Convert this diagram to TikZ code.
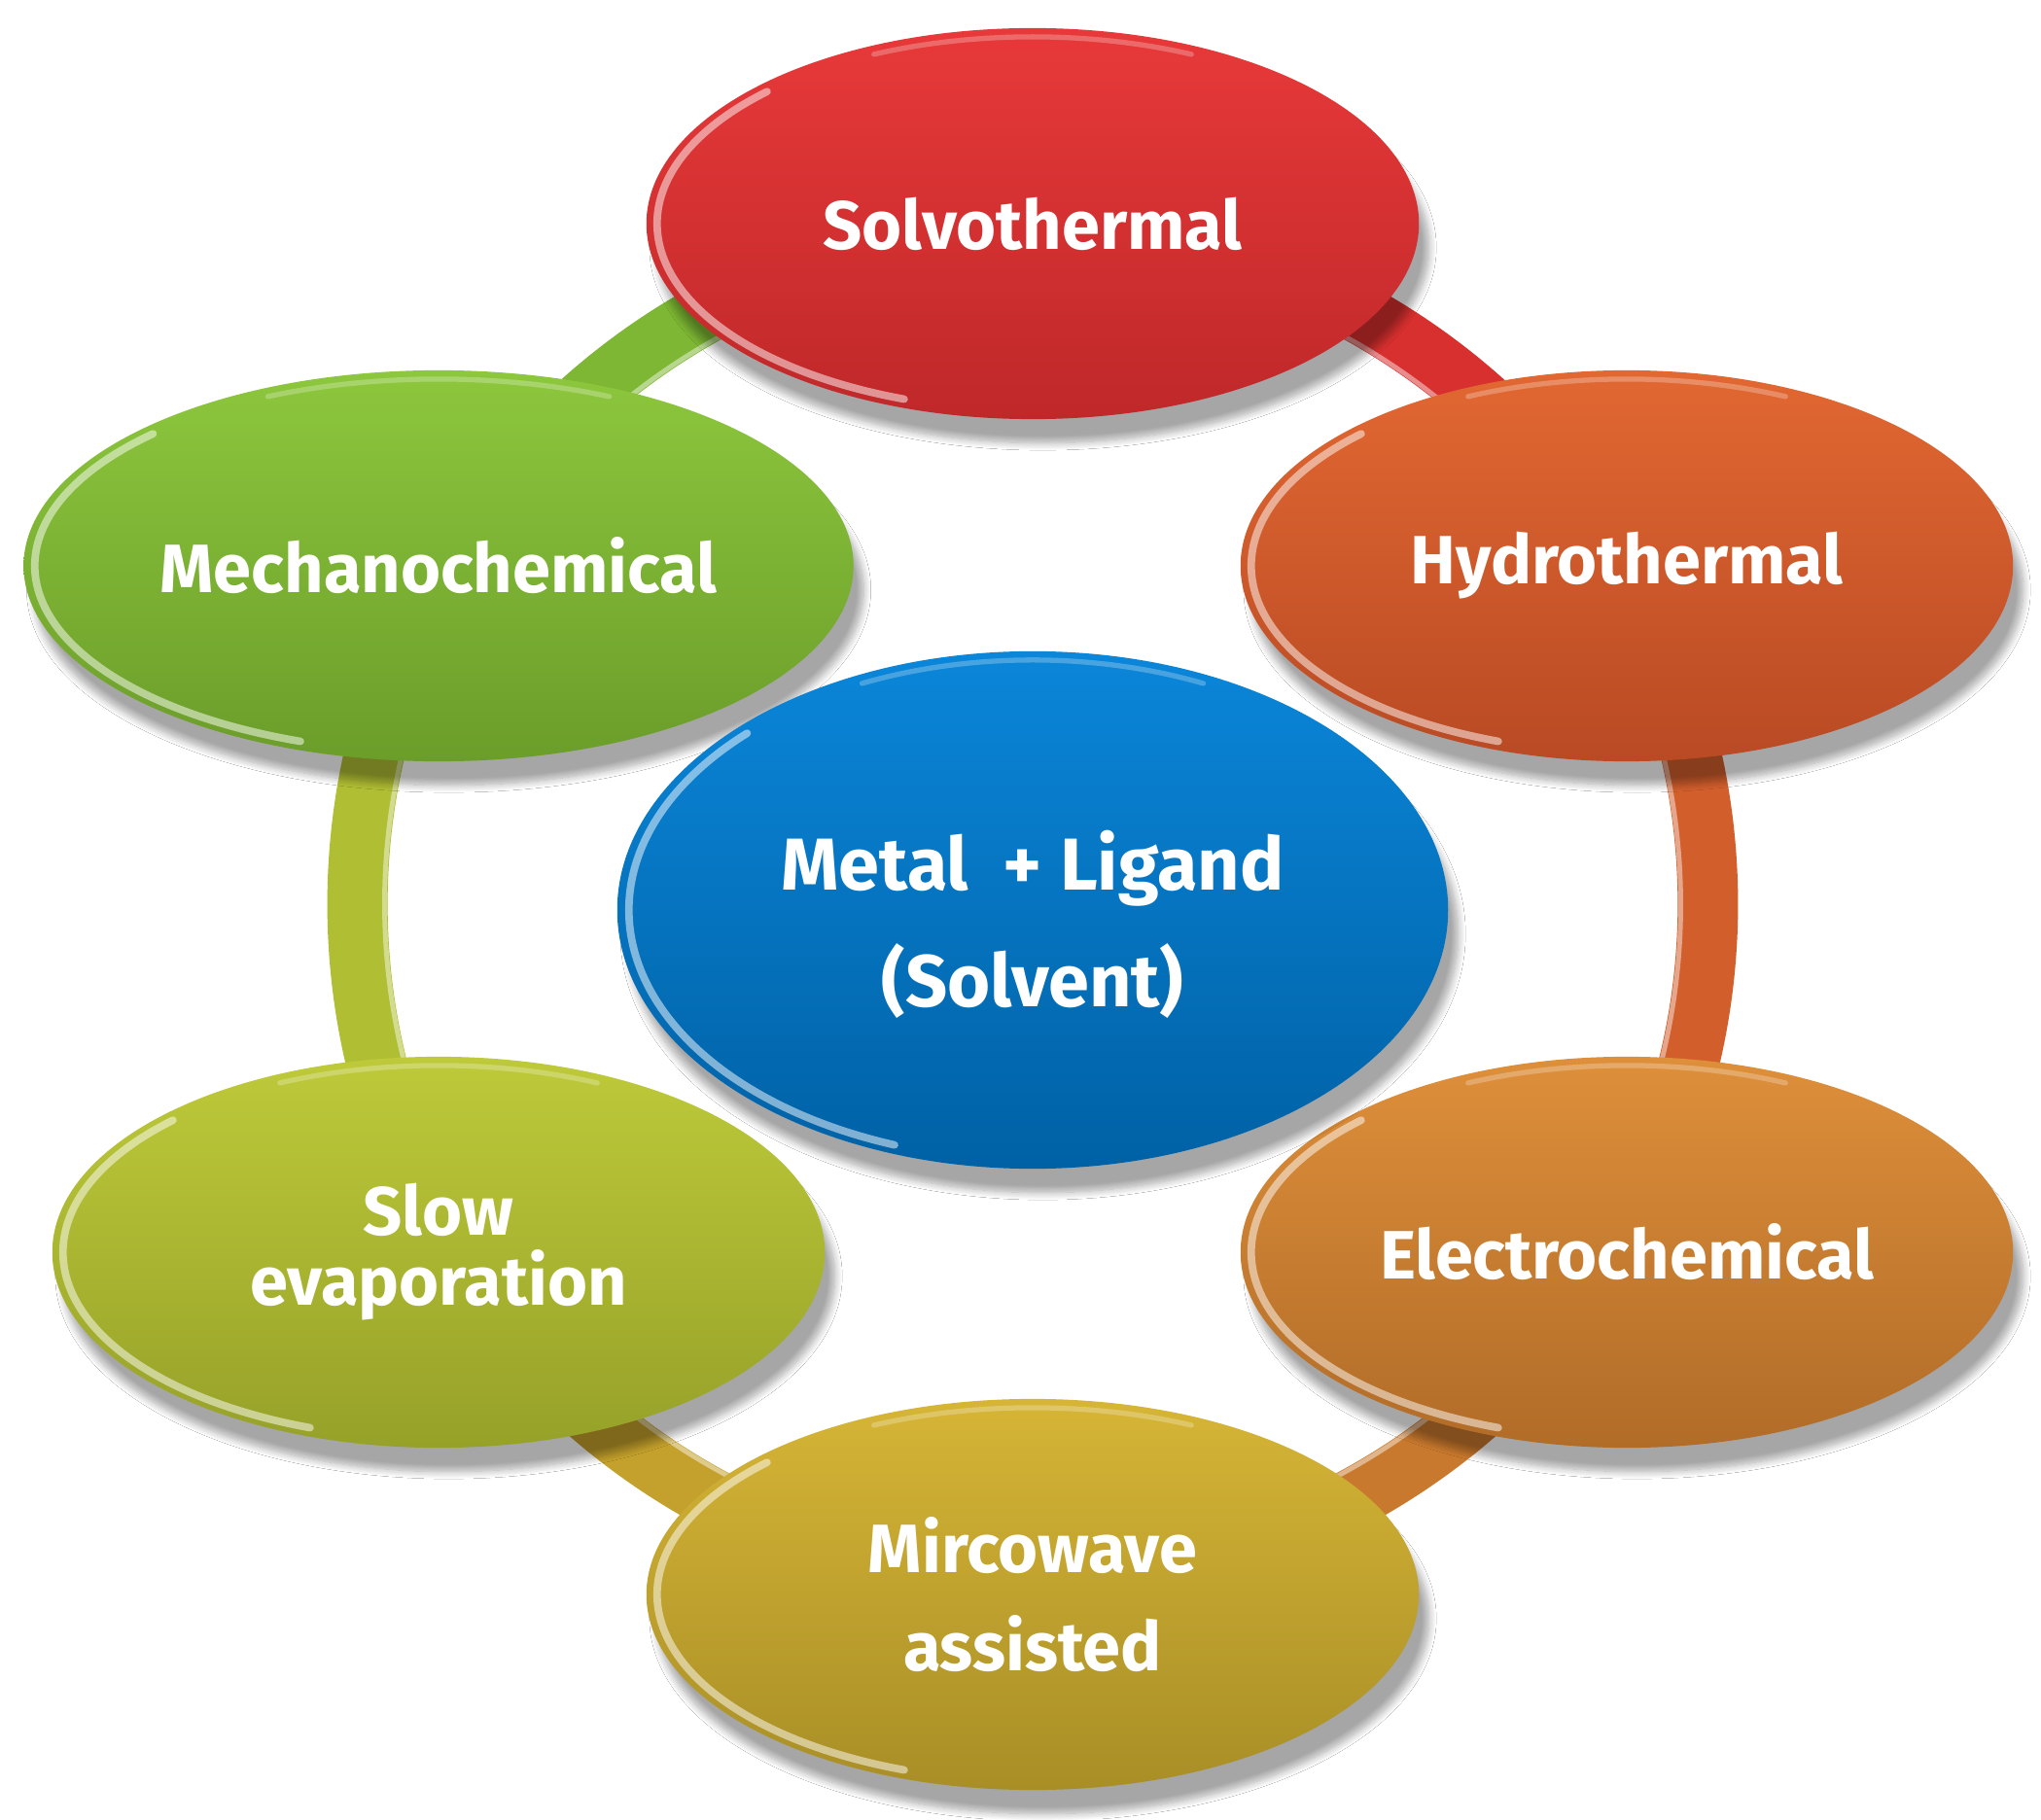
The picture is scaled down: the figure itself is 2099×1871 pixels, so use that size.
\documentclass[tikz,border=0pt]{standalone}
\usepackage{fontspec}
\setmainfont{Fira Sans}
\usetikzlibrary{shapes.geometric,shadows.blur}
\definecolor{solT}{HTML}{E8393A}\definecolor{solB}{HTML}{BF2829}
\definecolor{hydT}{HTML}{E26832}\definecolor{hydB}{HTML}{B94A24}
\definecolor{eleT}{HTML}{DE8F3A}\definecolor{eleB}{HTML}{B16C28}
\definecolor{micT}{HTML}{D6B536}\definecolor{micB}{HTML}{A88E26}
\definecolor{sloT}{HTML}{BECA39}\definecolor{sloB}{HTML}{96A129}
\definecolor{mecT}{HTML}{8DC73D}\definecolor{mecB}{HTML}{6B9D2A}
\definecolor{cenT}{HTML}{0B86D9}\definecolor{cenB}{HTML}{0061A5}
\definecolor{rMec}{HTML}{7DB733}\definecolor{rSol}{HTML}{D8302F}
\definecolor{rHyd}{HTML}{D25E2C}\definecolor{rEle}{HTML}{C9792D}
\definecolor{rMic}{HTML}{C4A12C}\definecolor{rSlo}{HTML}{B0BE33}
\tikzset{
  bubble/.style={ellipse, minimum width=7.94cm, minimum height=4.02cm, inner sep=0pt,
    text=white, align=center, font=\bfseries\fontsize{20}{28}\selectfont,
    blur shadow={shadow xshift=3pt, shadow yshift=-7pt, shadow blur steps=10, shadow opacity=35}},
  ringseg/.style={line width=0.62cm},
  ringshine/.style={line width=1.4pt, white, opacity=0.45},
  rim/.style={line width=2.2pt, white, opacity=0.5, line cap=round},
}
\newcommand{\glossrim}[3]{%
  \draw[rim] (#1.center) ++(135:#2 and #3) arc[start angle=135, end angle=250, x radius=#2, y radius=#3];
  \draw[rim, opacity=0.25, line width=1.5pt] (#1.center) ++(65:#2 and #3) arc[start angle=65, end angle=115, x radius=#2, y radius=#3];
}
\begin{document}
\begin{tikzpicture}[x=0.01cm,y=0.01cm]
\useasboundingbox (0,0) rectangle (2099,1871);
\fill[white] (0,0) rectangle (2099,1871);

% ring
\coordinate (rc) at (1062,941);
\path (rc) ++(90:6.94cm) coordinate (p90);
\path (rc) ++(30:6.94cm) coordinate (p30);
\path (rc) ++(-30:6.94cm) coordinate (pm30);
\path (rc) ++(-90:6.94cm) coordinate (pm90);
\path (rc) ++(-150:6.94cm) coordinate (pm150);
\path (rc) ++(150:6.94cm) coordinate (p150);
\draw[ringseg, rSol] (p90) arc[start angle=90, end angle=30, radius=6.94cm];
\draw[ringseg, rHyd] (p30) arc[start angle=30, end angle=-30, radius=6.94cm];
\draw[ringseg, rEle] (pm30) arc[start angle=-30, end angle=-90, radius=6.94cm];
\draw[ringseg, rMic] (pm90) arc[start angle=-90, end angle=-150, radius=6.94cm];
\draw[ringseg, rSlo] (pm150) arc[start angle=-150, end angle=-210, radius=6.94cm];
\draw[ringseg, rMec] (p150) arc[start angle=150, end angle=90, radius=6.94cm];
\draw[ringshine] (rc) ++(150:6.66cm) arc[start angle=150, end angle=-210, radius=6.66cm];

% nodes
\node[bubble, top color=solT, bottom color=solB] (solvo) at (1062,1641) {Solvothermal};
\node[bubble, top color=hydT, bottom color=hydB] (hydro) at (1673,1289) {Hydrothermal};
\node[bubble, top color=eleT, bottom color=eleB] (electro) at (1673,583) {Electrochemical};
\node[bubble, top color=micT, bottom color=micB, font=\bfseries\fontsize{20}{28.5}\selectfont] (micro) at (1062,231) {Mircowave\\assisted};
\node[bubble, top color=sloT, bottom color=sloB, font=\bfseries\fontsize{20}{20.5}\selectfont] (slow) at (451,583) {Slow\\evaporation};
\node[bubble, top color=mecT, bottom color=mecB, minimum width=8.53cm] (mech) at (451,1289) {Mechanochemical};
\node[bubble, top color=cenT, bottom color=cenB, minimum width=8.54cm, minimum height=5.32cm] (center) at (1062,935) {};
\node[text=white, align=center, font=\bfseries\fontsize{21.5}{34}\selectfont] (centertext) at (1062,920) {Metal~ + Ligand\\(Solvent)};

\glossrim{solvo}{3.86cm}{1.92cm}
\glossrim{hydro}{3.86cm}{1.92cm}
\glossrim{electro}{3.86cm}{1.92cm}
\glossrim{micro}{3.86cm}{1.92cm}
\glossrim{slow}{3.86cm}{1.92cm}
\glossrim{mech}{4.15cm}{1.92cm}
\glossrim{center}{4.15cm}{2.57cm}
\end{tikzpicture}
\end{document}
